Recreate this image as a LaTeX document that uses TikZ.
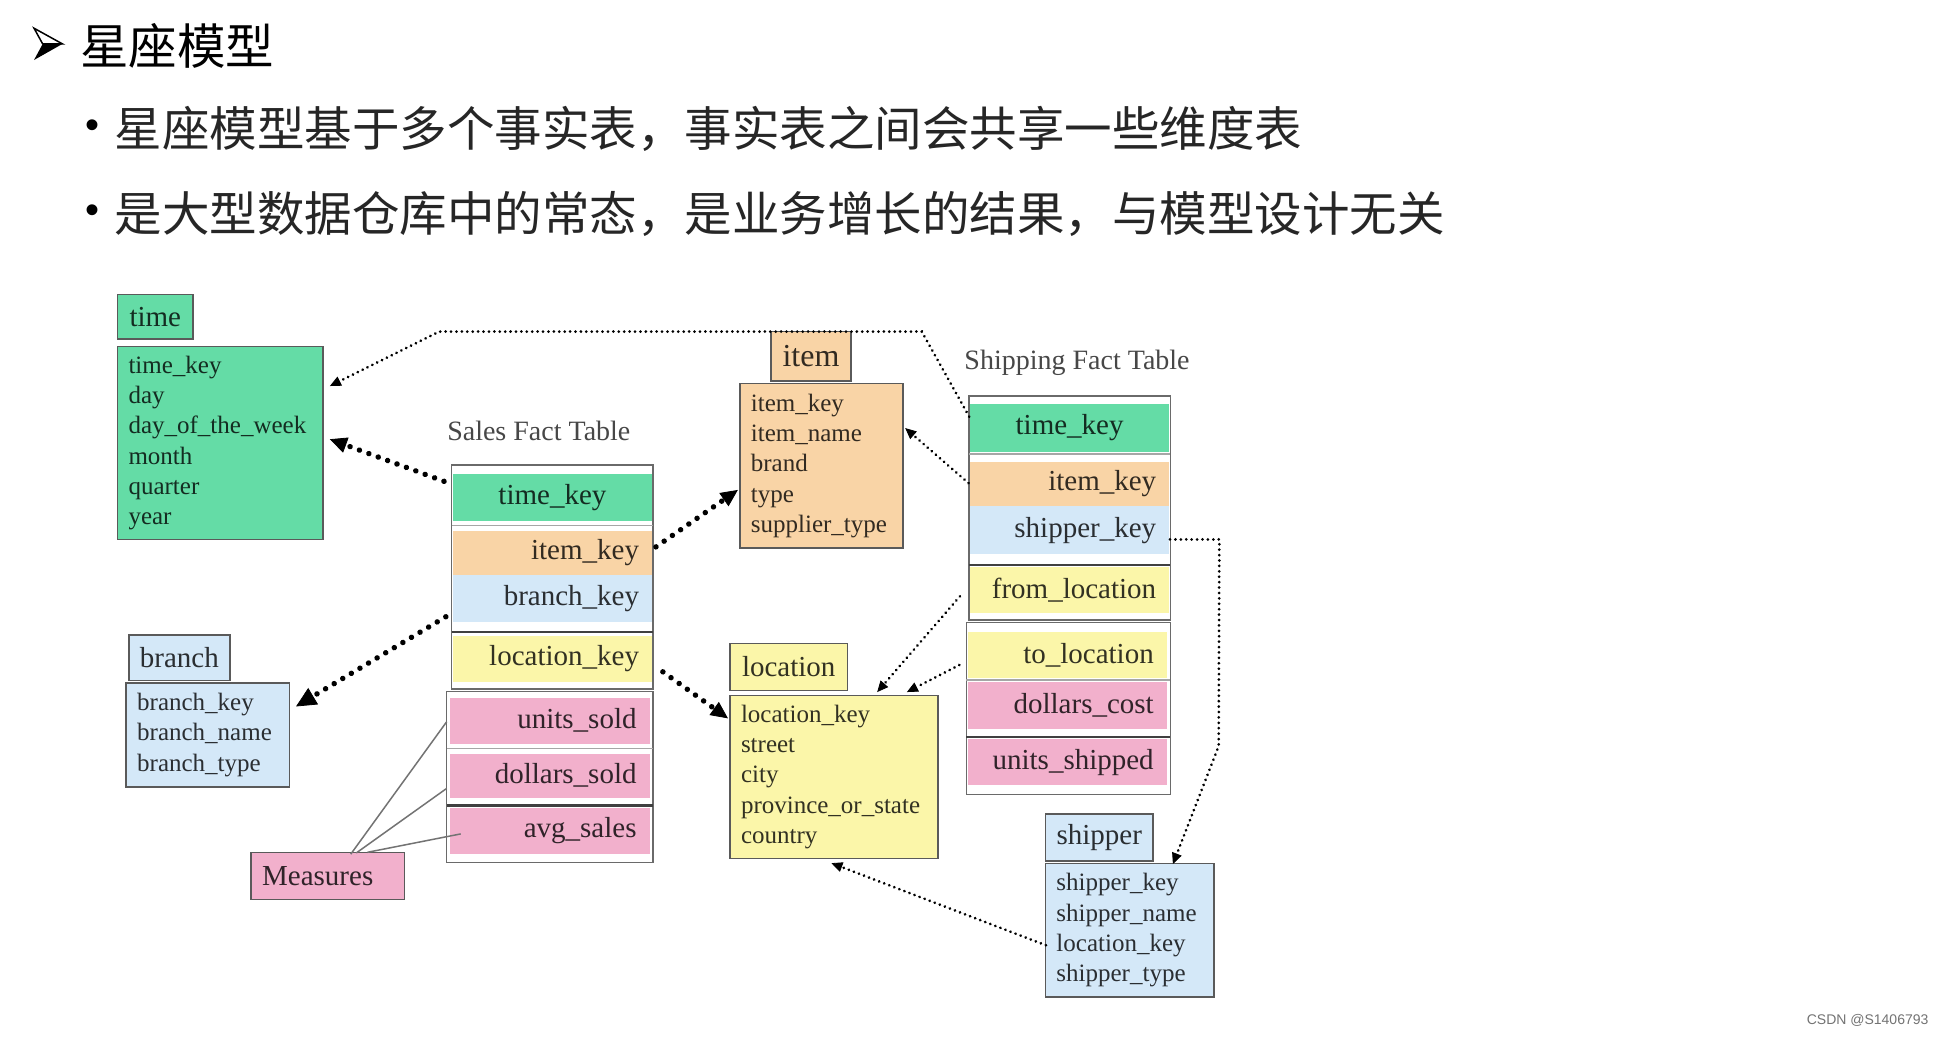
\documentclass[tikz,border=0pt]{standalone}
\usepackage{fontspec}
\setmainfont{Liberation Serif}
\newfontfamily\cjk{Noto Sans CJK SC}
\newfontfamily\wmf{Liberation Sans}
\usetikzlibrary{arrows.meta,calc}
\definecolor{cgreen}{HTML}{64DCA6}
\definecolor{corange}{HTML}{F9D4A6}
\definecolor{cblue}{HTML}{D4E8F8}
\definecolor{cyellow}{HTML}{FBF6A9}
\definecolor{cpink}{HTML}{F2B0CC}
\definecolor{bord}{HTML}{5A5A5A}
\definecolor{fbord}{HTML}{6A6A6A}
\begin{document}
\begin{tikzpicture}[x=1.2372pt,y=-1.2372pt,
  hdr/.style={draw=bord, line width=1.6pt, inner sep=0pt, font=\fontsize{29}{32}\selectfont},
  dbody/.style={draw=bord, line width=1.6pt, inner xsep=11pt, inner ysep=0pt, align=left, font=\fontsize{25}{30.3}\selectfont},
  frm/.style={draw=fbord, line width=1.6pt, fill=white, inner sep=0pt},
  frow/.style={inner xsep=13pt, inner ysep=0pt, text width=173.2pt, align=right, font=\fontsize{29}{32}\selectfont},
  sep/.style={line width=1.4pt, draw=black!35},
  dsep/.style={line width=2.2pt, draw=black!75},
  thindot/.style={draw=black, line width=3pt, line cap=round, dash pattern=on 0.01pt off 5.4pt, -{Triangle[length=11pt,width=10pt,line width=0.8pt]}},
  thickdot/.style={draw=black, line width=5.5pt, line cap=round, dash pattern=on 0.01pt off 10pt, -{Triangle[length=17pt,width=16pt,line width=0.8pt]}},
  mline/.style={draw=black!55, line width=1.5pt},
  lbl/.style={font=\fontsize{28}{32}\selectfont, text=black!72},
  cjkline/.style={font=\cjk\fontsize{47.5}{56}\selectfont, anchor=west, inner sep=0pt, text=black!85}
]
\useasboundingbox (0,0) rectangle (1568,837.36);
\fill[white] (0,0) rectangle (1568,837.36);

% title arrowhead (3-D top-lighted arrowhead bullet)
\coordinate (aA) at (27.5,22.8);
\coordinate (aT) at (50.5,35.5);
\coordinate (aB) at (27.5,48.5);
\coordinate (aN) at (34.5,35.5);
\fill[black] (aN) -- (aT) -- (aB) -- cycle;
\draw[black, line width=1.5pt, line join=miter, fill=white] (aA) -- (aT) -- (aN) -- cycle;
\node[font=\cjk\fontsize{48.5}{56}\selectfont, anchor=west, inner sep=0pt, text=black] (ttl) at (64.5,37) {星座模型};

% bullets
\node[font=\wmf\fontsize{40}{40}\selectfont, inner sep=0pt, text=black] (bu1) at (75,104) {•};
\node[cjkline] (ln1) at (92.5,104) {星座模型基于多个事实表，事实表之间会共享一些维度表};
\node[font=\wmf\fontsize{40}{40}\selectfont, inner sep=0pt, text=black] (bu2) at (75,173) {•};
\node[cjkline] (ln2) at (92.5,173) {是大型数据仓库中的常态，是业务增长的结果，与模型设计无关};

% dimension tables
\node[hdr, fill=cgreen, text=black!80!cgreen, minimum width=75.5pt, minimum height=44.5pt] (th) at (125.5,256) {time};
\node[dbody, fill=cgreen, text=black!80!cgreen, text width=183.4pt, minimum height=193pt] (tb) at (178,358) {time\_key\\day\\day\_of\_the\_week\\month\\quarter\\year};

\node[hdr, fill=corange, text=black!80!corange, minimum width=80.4pt, minimum height=49.5pt, font=\fontsize{32}{34}\selectfont] (ih) at (655.5,288) {item};
\node[dbody, fill=corange, text=black!80!corange, text width=141.3pt, minimum height=164.5pt] (ib) at (664,376.5) {item\_key\\item\_name\\brand\\type\\supplier\_type};

\node[hdr, fill=cblue, text=black!80!cblue, minimum width=101.4pt, minimum height=45.8pt] (bh) at (145,531.5) {branch};
\node[dbody, fill=cblue, text=black!80!cblue, text width=141.3pt, minimum height=103.9pt] (bb) at (168,594) {branch\_key\\branch\_name\\branch\_type};

\node[hdr, fill=cyellow, text=black!80!cyellow, minimum width=117.5pt, minimum height=47pt] (lh) at (637.5,539) {location};
\node[dbody, fill=cyellow, text=black!80!cyellow, text width=185.8pt, minimum height=163.3pt] (lb) at (674,628) {location\_key\\street\\city\\province\_or\_state\\country};

\node[hdr, fill=cblue, text=black!80!cblue, minimum width=107.6pt, minimum height=47pt] (sh) at (888.5,677) {shipper};
\node[dbody, fill=cblue, text=black!80!cblue, text width=146.3pt, minimum height=133.6pt] (spb) at (913,752) {shipper\_key\\shipper\_name\\location\_key\\shipper\_type};

\node[dbody, fill=cpink, text=black!80!cpink, text width=131.4pt, minimum height=47pt, font=\fontsize{29}{32}\selectfont] (meas) at (265,708) {Measures};

% labels
\node[lbl] (sftl) at (435.5,348) {Sales Fact Table};
\node[lbl] (hftl) at (870.5,293) {Shipping Fact Table};

% sales fact table
\node[frm, minimum width=201.7pt, minimum height=223.9pt] (sfa) at (446.5,466.5) {};
\node[frm, minimum width=206.6pt, minimum height=170.7pt] (sfb) at (444.5,628) {};
\node[frow, align=center, fill=cgreen, text=black!80!cgreen, minimum height=47pt] (s1) at (446.5,402) {time\_key};
\node[frow, fill=corange, text=black!80!corange, minimum height=44.5pt] (s2) at (446.5,447) {item\_key};
\node[frow, fill=cblue, text=black!80!cblue, minimum height=47pt] (s3) at (446.5,484) {branch\_key};
\node[frow, fill=cyellow, text=black!80!cyellow, minimum height=45.8pt] (s4) at (446.5,532.5) {location\_key};
\node[frow, fill=cpink, text=black!80!cpink, minimum height=45.8pt] (s5) at (444.5,582.5) {units\_sold};
\node[frow, fill=cpink, text=black!80!cpink, minimum height=44.5pt] (s6) at (444.5,627) {dollars\_sold};
\node[frow, fill=cpink, text=black!80!cpink, minimum height=45.8pt] (s7) at (444.5,671.5) {avg\_sales};
\draw[sep] (365,424.5) -- (528,424.5);
\draw[dsep] (365,511) -- (528,511);
\draw[sep] (361,605) -- (528,605);
\draw[dsep] (361,651) -- (528,651);

% shipping fact table
\node[frm, minimum width=201.7pt, minimum height=223.9pt] (hfa) at (864.5,410.5) {};
\node[frm, minimum width=204.1pt, minimum height=172pt] (hfb) at (863.5,572.5) {};
\node[frow, align=center, fill=cgreen, text=black!80!cgreen, minimum height=47.6pt] (h1) at (864.5,345.75) {time\_key};
\node[frow, fill=corange, text=black!80!corange, minimum height=44.5pt] (h2) at (864.5,391) {item\_key};
\node[frow, fill=cblue, text=black!80!cblue, minimum height=48.3pt] (h3) at (864.5,428.5) {shipper\_key};
\node[frow, fill=cyellow, text=black!80!cyellow, minimum height=45.8pt] (h4) at (864.5,477) {from\_location};
\node[frow, fill=cyellow, text=black!80!cyellow, minimum height=46.4pt] (h5) at (862.5,529.25) {to\_location};
\node[frow, fill=cpink, text=black!80!cpink, minimum height=47pt] (h6) at (862.5,570) {dollars\_cost};
\node[frow, fill=cpink, text=black!80!cpink, minimum height=45.8pt] (h7) at (862.5,616) {units\_shipped};
\draw[sep] (783,367) -- (946,367);
\draw[dsep] (783,456.5) -- (946,456.5);
\draw[sep] (781,549.5) -- (946,549.5);
\draw[dsep] (781,595.5) -- (946,595.5);

% measures lines
\draw[mline] ($(meas.north)+(18.5,2)$) -- ($(sfb.west)+(0.7,-44.7)$);
\draw[mline] ($(meas.north)+(23,1)$) -- ($(sfb.west)+(0.7,9.2)$);
\draw[mline] ($(meas.north)+(32,0.5)$) -- ($(sfb.west)+(12,46)$);

% connectors
\coordinate (k1) at (745,268);
\coordinate (k2) at (355,268);
\coordinate (k3) at (985.5,436);
\coordinate (k4) at (985,603);
\draw[thindot] ($(h1.west)+(-0.5,-9)$) -- (k1) -- (k2) -- ($(tb.east)+(5,-46)$);
\draw[thickdot] ($(s1.west)+(-7,-13)$) -- ($(tb.east)+(5,-3)$);
\draw[thickdot] ($(s2.east)+(3,-5)$) -- ($(ib.west)+(-1,19.5)$);
\draw[thindot] ($(h2.west)+(-1,-0.5)$) -- ($(ib.east)+(1,-30.5)$);
\draw[thickdot, -{Triangle[length=20pt,width=19pt,line width=0.8pt]}] ($(s3.west)+(-5.5,14.5)$) -- ($(bb.east)+(4.6,-23)$);
\draw[thickdot] ($(s4.east)+(8.6,10.5)$) -- ($(lb.west)+(-1,-47.4)$);
\draw[thindot] ($(h4.west)+(-8,5)$) -- ($(lb.north)+(35,-2)$);
\draw[thindot] ($(h5.west)+(-6.5,8.25)$) -- ($(lb.north)+(59,-2)$);
\draw[thindot] ($(h3.east)+(0.5,7.5)$) -- (k3) -- (k4) -- ($(spb.north)+(35,1)$);
\draw[thindot] ($(spb.west)+(1,12)$) -- ($(lb.south)+(-2,3)$);

% watermark
\node[font=\wmf\fontsize{14}{16}\selectfont, text=black!55, inner sep=0pt] (wm) at (1509.5,825) {CSDN @S1406793};
\end{tikzpicture}
\end{document}
